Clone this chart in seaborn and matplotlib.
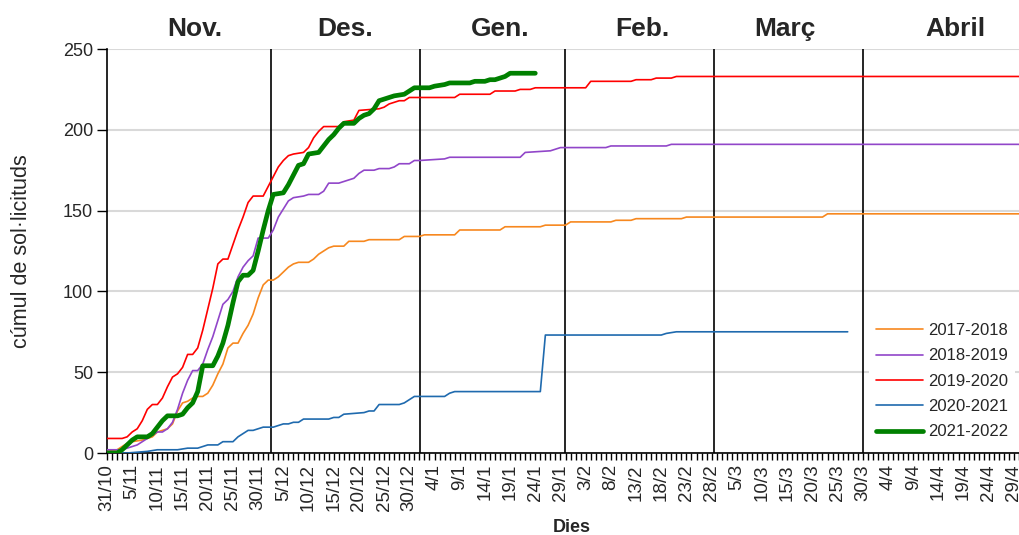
import matplotlib.pyplot as plt
import seaborn as sns

# dies comptats a partir del 31/10 (dia 0)
days_1718 = [0, 2, 3, 4, 5, 7, 8, 9, 10, 11, 12, 13, 14, 15, 16, 17, 18, 19, 20, 21, 22, 23, 24, 25, 26,
             27, 28, 29, 30, 31, 32, 33, 34, 35, 36, 37, 38, 40, 41, 42, 43, 44, 45, 47, 48, 51, 52, 58,
             59, 62, 63, 69, 70, 78, 79, 86, 87, 91, 92, 100, 101, 104, 105, 114, 115, 142, 143, 181]
vals_1718 = [1, 2, 4, 6, 7, 8, 9, 10, 13, 14, 15, 18, 26, 31, 32, 34, 35, 35, 37, 42, 49, 55, 65, 68, 68,
             74, 79, 86, 96, 104, 107, 107, 109, 112, 115, 117, 118, 118, 120, 123, 125, 127, 128, 128,
             131, 131, 132, 132, 134, 134, 135, 135, 138, 138, 140, 140, 141, 141, 143, 143, 144, 144,
             145, 145, 146, 146, 148, 148]

days_1819 = [0, 3, 4, 5, 6, 7, 8, 9, 10, 11, 12, 13, 14, 15, 16, 17, 18, 19, 20, 21, 22, 23, 24, 25, 26,
             27, 28, 29, 30, 32, 33, 34, 35, 36, 37, 39, 40, 42, 43, 44, 46, 47, 48, 49, 50, 51, 53, 54,
             56, 57, 58, 60, 61, 62, 67, 68, 82, 83, 88, 89, 90, 99, 100, 111, 112, 181]
vals_1819 = [2, 2, 3, 4, 5, 7, 9, 11, 13, 13, 15, 19, 27, 37, 45, 51, 51, 55, 64, 72, 82, 92, 95, 100, 109,
             115, 119, 122, 133, 133, 138, 146, 151, 156, 158, 159, 160, 160, 162, 167, 167, 168, 169,
             170, 173, 175, 175, 176, 176, 177, 179, 179, 181, 181, 182, 183, 183, 186, 187, 188, 189,
             189, 190, 190, 191, 191]

days_1920 = [0, 3, 4, 5, 6, 7, 8, 9, 10, 11, 12, 13, 14, 15, 16, 17, 18, 19, 20, 21, 22, 23, 24, 25, 26,
             27, 28, 29, 31, 32, 33, 34, 35, 36, 37, 39, 40, 41, 42, 43, 46, 47, 49, 50, 54, 55, 56, 58,
             59, 60, 69, 70, 76, 77, 81, 82, 84, 85, 95, 96, 104, 105, 108, 109, 112, 113, 181]
vals_1920 = [9, 9, 10, 13, 15, 20, 27, 30, 30, 34, 41, 47, 49, 53, 61, 61, 65, 76, 89, 102, 117, 120, 120,
             129, 138, 146, 155, 159, 159, 165, 171, 177, 181, 184, 185, 186, 189, 195, 199, 202, 202,
             205, 206, 212, 213, 214, 216, 218, 218, 220, 220, 222, 222, 224, 224, 225, 225, 226, 226,
             230, 230, 231, 231, 232, 232, 233, 233]

days_2021 = [0, 4, 8, 10, 14, 16, 18, 20, 22, 23, 25, 26, 27, 28, 29, 31, 33, 34, 35, 36, 37, 38, 39, 44,
             45, 46, 47, 51, 52, 53, 54, 58, 59, 60, 61, 67, 68, 69, 86, 87, 110, 111, 113, 147]
vals_2021 = [0, 0, 1, 2, 2, 3, 3, 5, 5, 7, 7, 10, 12, 14, 14, 16, 16, 17, 18, 18, 19, 19, 21, 21, 22, 22,
             24, 25, 26, 26, 30, 30, 31, 33, 35, 35, 37, 38, 38, 73, 73, 74, 75, 75]

days_2122 = [0, 2, 3, 4, 5, 6, 8, 9, 10, 11, 12, 14, 15, 16, 17, 18, 19, 21, 22, 23, 24, 25, 26, 27, 28,
             29, 30, 31, 32, 33, 35, 36, 37, 38, 39, 40, 42, 43, 44, 45, 46, 47, 49, 50, 51, 52, 53, 54,
             56, 57, 59, 60, 61, 64, 65, 67, 68, 72, 73, 75, 76, 77, 78, 79, 80, 85]
vals_2122 = [0, 0, 2, 5, 8, 10, 10, 12, 16, 20, 23, 23, 24, 28, 31, 38, 54, 54, 60, 68, 79, 93, 106, 110,
             110, 113, 125, 138, 150, 160, 161, 166, 172, 178, 179, 185, 186, 190, 194, 197, 201, 204,
             204, 207, 209, 210, 213, 218, 220, 221, 222, 224, 226, 226, 227, 228, 229, 229, 230, 230,
             231, 231, 232, 233, 235, 235]

series_labels = ["2017-2018", "2018-2019", "2019-2020", "2020-2021", "2021-2022"]
series_colors = ["#F7881F", "#9146C9", "#FF0000", "#1F6AAE", "#008000"]
series_widths = [1.2, 1.2, 1.2, 1.2, 3.4]

tick_labels = ["31/10", "5/11", "10/11", "15/11", "20/11", "25/11", "30/11",
               "5/12", "10/12", "15/12", "20/12", "25/12", "30/12",
               "4/1", "9/1", "14/1", "19/1", "24/1", "29/1",
               "3/2", "8/2", "13/2", "18/2", "23/2", "28/2",
               "5/3", "10/3", "15/3", "20/3", "25/3", "30/3",
               "4/4", "9/4", "14/4", "19/4", "24/4", "29/4"]

month_names = ["Nov.", "Des.", "Gen.", "Feb.", "Març", "Abril"]
month_label_days = [17.5, 47.2, 78.0, 106.3, 134.5, 168.3]
month_line_days = [32.5, 62.2, 90.8, 120.5, 150.1]

sns.set_style("white")
plt.rcParams['font.family'] = ['Liberation Sans', 'DejaVu Sans']

fig = plt.figure(figsize=(10.19, 5.35), dpi=100)
ax = fig.add_axes([107 / 1019, 82 / 535, 912 / 1019, 404 / 535])

all_days = [days_1718, days_1819, days_1920, days_2021, days_2122]
all_vals = [vals_1718, vals_1819, vals_1920, vals_2021, vals_2122]

for d, v, lbl, col, lw in zip(all_days, all_vals, series_labels, series_colors, series_widths):
    sns.lineplot(x=d, y=v, ax=ax, color=col, linewidth=lw, label=lbl,
                 solid_capstyle='round', zorder=3)

# línies de separació dels mesos
for d in month_line_days:
    ax.axvline(d, color='black', linewidth=1.2, zorder=2)

for name, d in zip(month_names, month_label_days):
    ax.text(d, 1.05, name, transform=ax.get_xaxis_transform(), ha='center', va='center',
            fontsize=19, fontweight='bold')

ax.set_xlim(0, 181)
ax.set_ylim(0, 250)
ax.set_yticks(range(0, 251, 50))
ax.set_xticks(range(0, 181, 5))
ax.set_xticklabels(tick_labels, rotation=90)
ax.set_xticks(range(0, 182), minor=True)

ax.tick_params(axis='x', which='both', direction='out', length=5, width=1, color='black',
               bottom=True, labelsize=13.5, pad=3)
ax.tick_params(axis='y', direction='out', length=7, width=1, color='black', left=True,
               labelsize=13, pad=3)

ax.yaxis.grid(True, color='#D9D9D9', linewidth=1.5, zorder=0)
ax.xaxis.grid(False)
ax.set_axisbelow(True)

for s in ['top', 'right']:
    ax.spines[s].set_visible(False)
for s in ['left', 'bottom']:
    ax.spines[s].set_color('black')
    ax.spines[s].set_linewidth(1.2)

ax.set_ylabel("cúmul de sol·licituds", fontsize=15.5)
ax.yaxis.set_label_coords(-0.082, 0.5)
ax.set_xlabel("Dies", fontsize=13, fontweight='bold')
ax.xaxis.set_label_coords(0.51, -0.163)

leg = ax.legend(loc='upper left', bbox_to_anchor=(0.836, 0.338), borderaxespad=0,
                fontsize=12, handlelength=2.8, handletextpad=0.35, labelspacing=0.62,
                frameon=True, facecolor='white', edgecolor='none', framealpha=1)
leg.set_zorder(5)

fig.savefig('out.png', dpi=100)
